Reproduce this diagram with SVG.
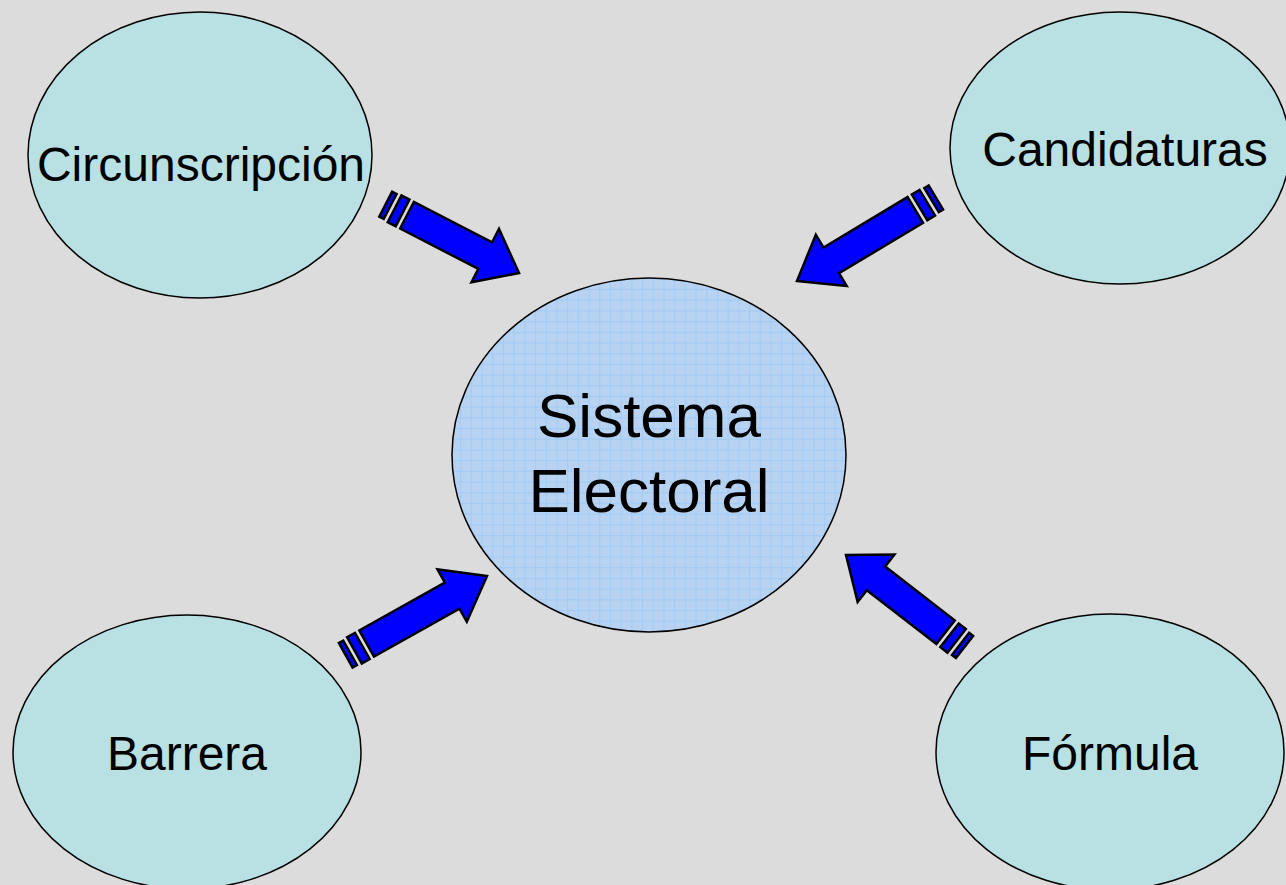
<svg xmlns="http://www.w3.org/2000/svg" width="1286" height="885" viewBox="0 0 1286 885">
<style>
.node{fill:#B9E0E3;stroke:#000;stroke-width:1.5}
.lbl{font-family:"Liberation Sans",Arial,sans-serif;font-size:48px;fill:#000;text-anchor:middle}
.big{font-size:62px}
.arr{fill:#0000FF;stroke:#000;stroke-width:2.5;stroke-linejoin:miter}
</style>
<defs>
<pattern id="grid" width="10.7" height="10.7" patternUnits="userSpaceOnUse">
<rect width="10.7" height="10.7" fill="#B7D3F1"/>
<path d="M0,0.5H10.7M0.5,0V10.7" stroke="#A3CBF5" stroke-width="1.2"/>
</pattern>
</defs>
<rect width="1286" height="885" fill="#DCDCDC"/>
<g id="connectors">
<g transform="translate(519,273) rotate(27.3)">
<path class="arr" d="M0,0 L-38,-30 L-38,-15 L-126,-15 L-126,15 L-38,15 L-38,30 Z"/>
<rect class="arr" x="-140" y="-15" width="9" height="30"/>
<rect class="arr" x="-150" y="-14" width="5" height="28"/>
</g>
<g transform="translate(797,281) rotate(149)">
<path class="arr" d="M0,0 L-40,-30 L-40,-15 L-138,-15 L-138,15 L-40,15 L-40,30 Z"/>
<rect class="arr" x="-152" y="-15" width="9" height="30"/>
<rect class="arr" x="-162" y="-14" width="5" height="28"/>
</g>
<g transform="translate(487,576) rotate(-29.3)">
<path class="arr" d="M0,0 L-40,-30 L-40,-15 L-138,-15 L-138,15 L-40,15 L-40,30 Z"/>
<rect class="arr" x="-152" y="-15" width="9" height="30"/>
<rect class="arr" x="-162" y="-14" width="5" height="28"/>
</g>
<g transform="translate(846,555) rotate(-142.2)">
<path class="arr" d="M0,0 L-38,-30 L-38,-15 L-126,-15 L-126,15 L-38,15 L-38,30 Z"/>
<rect class="arr" x="-140" y="-15" width="9" height="30"/>
<rect class="arr" x="-150" y="-14" width="5" height="28"/>
</g>
</g>
<g id="circunscripcion">
<ellipse class="node" cx="200" cy="155" rx="172" ry="143"/>
<text class="lbl" x="201" y="181">Circunscripción</text>
</g>
<g id="candidaturas">
<ellipse class="node" cx="1120" cy="148" rx="170" ry="136"/>
<text class="lbl" x="1125" y="166">Candidaturas</text>
</g>
<g id="sistema">
<ellipse cx="649" cy="455" rx="197" ry="177" fill="url(#grid)" stroke="#000" stroke-width="1.5"/>
<text class="lbl big" x="649" y="437">Sistema</text>
<text class="lbl big" x="649" y="512">Electoral</text>
</g>
<g id="barrera">
<ellipse class="node" cx="187" cy="752" rx="174" ry="137"/>
<text class="lbl" x="187" y="770">Barrera</text>
</g>
<g id="formula">
<ellipse class="node" cx="1110" cy="752" rx="174" ry="138"/>
<text class="lbl" x="1110" y="770">Fórmula</text>
</g>
</svg>
